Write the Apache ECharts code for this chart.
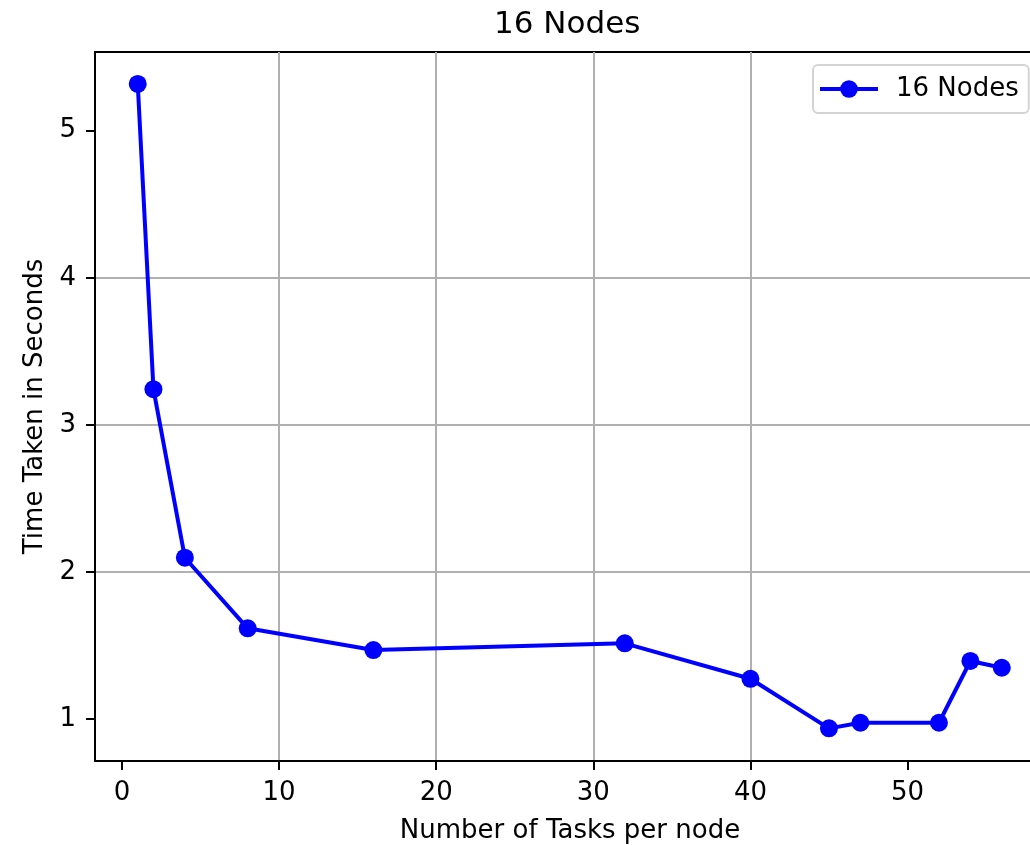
<!DOCTYPE html>
<html>
<head>
<meta charset="utf-8">
<script src="https://cdn.jsdelivr.net/npm/echarts@6/dist/echarts.min.js"></script>
<style>
html,body{margin:0;padding:0;background:#fff;}
#chart{width:1030px;height:845px;}
</style>
</head>
<body>
<div id="chart"></div>
<script>
const titleText = '16 Nodes';
const seriesName = '16 Nodes';
const xName = 'Number of Tasks per node';
const yName = 'Time Taken in Seconds';
const tasks = [1, 2, 4, 8, 16, 32, 40, 45, 47, 52, 54, 56];
const times = [5.318, 3.243, 2.097, 1.617, 1.469, 1.515, 1.274, 0.937, 0.975, 0.975, 1.395, 1.349];
const xTicks = [0, 10, 20, 30, 40, 50];
const yTicks = [1, 2, 3, 4, 5];

const FONT = 'DejaVu Sans';
const chart = echarts.init(document.getElementById('chart'), null, {renderer: 'canvas'});
const data = tasks.map((t, i) => [t, times[i]]);

chart.setOption({
  animation: false,
  backgroundColor: '#ffffff',
  title: {
    text: titleText,
    left: 494,
    top: 9,
    padding: 0,
    textStyle: {fontFamily: FONT, fontSize: 31, fontWeight: 'normal', color: '#000'}
  },
  legend: {
    left: 813,
    top: 65,
    orient: 'vertical',
    padding: [11, 10, 11, 5],
    itemWidth: 58,
    itemHeight: 22,
    borderColor: '#d4d4d4',
    borderWidth: 2,
    borderRadius: 5,
    backgroundColor: 'rgba(255,255,255,0.8)',
    lineStyle: {width: 4, color: '#0000ff'},
    textStyle: {fontFamily: FONT, fontSize: 26, color: '#000', padding: [0, 0, 0, 13]},
    data: [seriesName]
  },
  grid: {
    left: 95,
    top: 52,
    width: 950,
    height: 709,
    outerBoundsMode: 'none',
    show: true,
    borderColor: '#000',
    borderWidth: 2,
    backgroundColor: 'transparent',
    containLabel: false
  },
  xAxis: {
    type: 'value',
    min: -1.72,
    max: 58.75,
    splitNumber: 6,
    name: xName,
    nameLocation: 'middle',
    nameGap: 57,
    nameTextStyle: {fontFamily: FONT, fontSize: 26, color: '#000'},
    axisLine: {show: true, onZero: false, lineStyle: {color: '#000', width: 2}},
    axisTick: {show: true, length: 9, inside: false, customValues: xTicks, lineStyle: {color: '#000', width: 2}},
    axisLabel: {show: true, margin: 19, customValues: xTicks, fontFamily: FONT, fontSize: 26, color: '#000'},
    splitLine: {show: true, showMinLine: false, showMaxLine: false, lineStyle: {color: '#b0b0b0', width: 2}}
  },
  yAxis: {
    type: 'value',
    min: 0.715,
    max: 5.535,
    splitNumber: 5,
    name: yName,
    nameLocation: 'middle',
    nameGap: 47,
    nameRotate: 90,
    nameTextStyle: {fontFamily: FONT, fontSize: 26, color: '#000'},
    axisLine: {show: true, onZero: false, lineStyle: {color: '#000', width: 2}},
    axisTick: {show: true, length: 9, inside: false, customValues: yTicks, lineStyle: {color: '#000', width: 2}},
    axisLabel: {show: true, margin: 19, customValues: yTicks, fontFamily: FONT, fontSize: 26, color: '#000'},
    splitLine: {show: true, showMinLine: false, showMaxLine: false, lineStyle: {color: '#b0b0b0', width: 2}}
  },
  series: [{
    name: seriesName,
    type: 'line',
    data: data,
    symbol: 'circle',
    symbolSize: 18,
    showAllSymbol: true,
    lineStyle: {color: '#0000ff', width: 4},
    itemStyle: {color: '#0000ff', borderWidth: 0},
    emphasis: {disabled: true},
    z: 3
  }]
});
</script>
</body>
</html>
